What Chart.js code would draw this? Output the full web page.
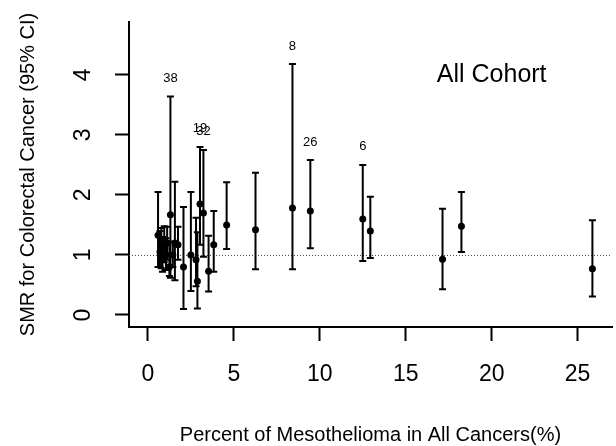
<!DOCTYPE html>
<html>
<head>
<meta charset="utf-8">
<script src="https://cdn.jsdelivr.net/npm/chart.js@4.4.1/dist/chart.umd.min.js"></script>
<style>
  html, body { margin: 0; padding: 0; background: #fff; }
  canvas { display: block; }
</style>
</head>
<body>
<canvas id="smrCanvas" width="616" height="446"></canvas>
<script>
// percent of mesothelioma among all cancers, per cohort
const pctMeso = [0.59, 0.70, 0.78, 0.85, 0.95, 1.05, 1.12, 1.25, 1.31, 1.45, 1.57, 1.75,
                 2.07, 2.50, 2.80, 2.88, 3.03, 3.23, 3.53, 3.83, 4.58, 6.26, 8.41, 9.45,
                 12.50, 12.94, 17.14, 18.24, 25.86];
// SMR for colorectal cancer and its 95% CI
const smr = [1.33, 1.05, 1.12, 0.95, 1.18, 1.00, 1.20, 0.80, 1.67, 1.00, 1.20, 1.17,
             0.80, 1.00, 0.92, 0.56, 1.85, 1.70, 0.73, 1.17, 1.50, 1.42, 1.78, 1.73,
             1.60, 1.40, 0.93, 1.48, 0.77];
const ciLow = [0.80, 0.80, 0.78, 0.72, 0.88, 0.75, 0.92, 0.65, 0.62, 0.80, 0.58, 0.92,
               0.10, 0.40, 0.48, 0.11, 1.17, 0.97, 0.39, 0.72, 1.10, 0.76, 0.76, 1.11,
               0.90, 0.95, 0.43, 1.05, 0.31];
const ciHigh = [2.05, 1.40, 1.45, 1.30, 1.48, 1.28, 1.47, 1.22, 3.64, 1.22, 2.22, 1.47,
                1.80, 2.05, 1.62, 1.38, 2.80, 2.75, 1.32, 1.73, 2.21, 2.37, 4.18, 2.58,
                2.50, 1.97, 1.77, 2.05, 1.58];
// study numbers written above some of the bars
const studyIds = ['', '', '', '', '', '', '', '', '38', '', '', '',
                  '', '', '', '', '19', '32', '', '', '', '', '8', '26',
                  '6', '', '', '', ''];

const xTicks = [0, 5, 10, 15, 20, 25];
const yTicks = [0, 1, 2, 3, 4];
const refLevel = 1;

Chart.defaults.font.family = "'Liberation Sans', Arial, sans-serif";
Chart.defaults.color = '#000';

const errorBars = {
    id: 'errorBars',
    beforeDatasetsDraw(chart) {
        const {ctx, chartArea, scales: {x, y}} = chart;
        ctx.save();
        // dotted reference line at SMR = 1
        ctx.strokeStyle = '#444';
        ctx.lineWidth = 1;
        ctx.setLineDash([1, 2]);
        ctx.beginPath();
        ctx.moveTo(chartArea.left, y.getPixelForValue(refLevel) + 0.5);
        ctx.lineTo(chartArea.right, y.getPixelForValue(refLevel) + 0.5);
        ctx.stroke();
        ctx.setLineDash([]);

        ctx.strokeStyle = '#000';
        ctx.lineWidth = 2;
        pctMeso.forEach((v, i) => {
            const px = x.getPixelForValue(v);
            const lo = y.getPixelForValue(ciLow[i]);
            const hi = y.getPixelForValue(ciHigh[i]);
            ctx.beginPath();
            ctx.moveTo(px, lo);
            ctx.lineTo(px, hi);
            ctx.moveTo(px - 3.5, lo);
            ctx.lineTo(px + 3.5, lo);
            ctx.moveTo(px - 3.5, hi);
            ctx.lineTo(px + 3.5, hi);
            ctx.stroke();
        });

        ctx.fillStyle = '#000';
        ctx.textAlign = 'center';
        ctx.textBaseline = 'middle';
        ctx.font = "13px 'Liberation Sans', Arial, sans-serif";
        studyIds.forEach((s, i) => {
            if (!s) return;
            ctx.fillText(s, x.getPixelForValue(pctMeso[i]), y.getPixelForValue(ciHigh[i] + 0.3));
        });

        ctx.font = "25px 'Liberation Sans', Arial, sans-serif";
        ctx.fillText('All Cohort', x.getPixelForValue(20), y.getPixelForValue(4));
        ctx.restore();
    }
};

const smrChart = new Chart(document.getElementById('smrCanvas'), {
    type: 'scatter',
    data: {
        datasets: [{
            data: pctMeso.map((v, i) => ({x: v, y: smr[i]})),
            backgroundColor: '#000',
            borderColor: '#000',
            pointRadius: 3.5,
            pointBorderWidth: 0
        }]
    },
    options: {
        responsive: false,
        animation: false,
        events: [],
        layout: {padding: {top: 22, right: 0, bottom: 0, left: 0}},
        plugins: {legend: {display: false}, tooltip: {enabled: false}},
        scales: {
            x: {
                type: 'linear',
                min: -1.1,
                max: 27,
                afterFit: s => { s.height = 119; s.paddingLeft = 0; s.paddingRight = 0; },
                afterBuildTicks: s => { s.ticks = xTicks.map(v => ({value: v})); },
                ticks: {font: {size: 23}, padding: 20, maxRotation: 0},
                grid: {drawOnChartArea: false, tickLength: 14, tickWidth: 2, tickColor: '#000'},
                border: {display: true, color: '#000', width: 2},
                title: {
                    display: true,
                    text: 'Percent of Mesothelioma in All Cancers(%)',
                    font: {size: 20, lineHeight: 1},
                    padding: {top: 0, bottom: 1}
                }
            },
            y: {
                type: 'linear',
                min: -0.2,
                max: 4.88,
                afterFit: s => { s.width = 129; s.paddingTop = 0; s.paddingBottom = 0; },
                afterBuildTicks: s => { s.ticks = yTicks.map(v => ({value: v})); },
                ticks: {font: {size: 23}, padding: 25, minRotation: 90, maxRotation: 90, crossAlign: 'center'},
                grid: {drawOnChartArea: false, tickLength: 14, tickWidth: 2, tickColor: '#000'},
                border: {display: true, color: '#000', width: 2},
                title: {
                    display: true,
                    text: 'SMR for Colorectal Cancer (95% CI)',
                    font: {size: 20, lineHeight: 1},
                    padding: {top: 18, bottom: 0}
                }
            }
        }
    },
    plugins: [errorBars]
});
</script>
</body>
</html>
